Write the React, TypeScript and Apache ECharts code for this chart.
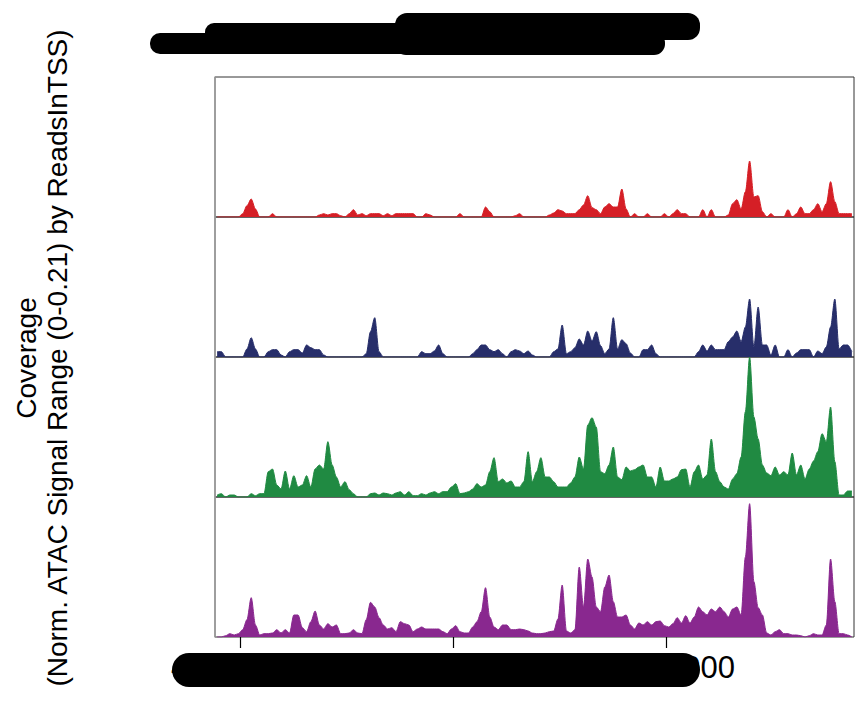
import React, { useEffect, useRef } from "react";
import * as echarts from "echarts";

// Genomic region and binning (200 bp tiles)
const REGION_START = 45208826;
const BIN_SIZE = 200;
const BIN_COUNT = 150;
const REGION_END = REGION_START + BIN_SIZE * BIN_COUNT;

// Signal range 0-0.21, values stored as signal x 1000
const Y_MAX = 210;

const TICK_POSITIONS = [45210000, 45220000, 45230000];
const TICK_LABELS = ["45210000", "45220000", "45230000"];

const TRACK_NAMES = ["C1", "C2", "C3", "C4"];
const TRACK_COLORS = ["#D51F26", "#272E6A", "#208A42", "#89288F"];

const c1Signal = [
  0, 0, 0, 0, 0, 0, 5, 17, 27, 12,
  0, 0, 0, 5, 0, 0, 0, 0, 0, 0,
  0, 0, 0, 0, 3, 5, 3, 5, 5, 2,
  0, 5, 11, 3, 5, 2, 5, 5, 5, 2,
  5, 2, 5, 5, 5, 5, 5, 0, 0, 5,
  3, 0, 0, 0, 0, 0, 0, 5, 0, 0,
  0, 0, 0, 15, 8, 0, 0, 0, 0, 0,
  2, 5, 0, 0, 0, 0, 0, 0, 3, 6,
  11, 9, 5, 5, 5, 11, 18, 32, 14, 11,
  5, 15, 20, 15, 15, 42, 12, 0, 5, 0,
  0, 5, 0, 0, 0, 5, 0, 5, 11, 5,
  5, 0, 0, 0, 11, 0, 11, 0, 0, 0,
  3, 20, 26, 12, 38, 84, 30, 32, 8, 0,
  5, 0, 0, 0, 11, 0, 5, 15, 5, 5,
  11, 20, 8, 20, 53, 23, 5, 5, 5, 5,
];

const c2Signal = [
  8, 8, 0, 0, 0, 0, 0, 12, 29, 12,
  0, 0, 8, 11, 11, 3, 0, 8, 11, 11,
  6, 18, 14, 11, 11, 3, 0, 0, 0, 0,
  0, 0, 0, 0, 0, 5, 38, 59, 8, 0,
  0, 0, 0, 0, 0, 0, 0, 0, 8, 5,
  5, 9, 18, 5, 0, 0, 0, 0, 0, 0,
  5, 11, 18, 18, 11, 8, 11, 5, 0, 8,
  11, 9, 5, 9, 3, 0, 0, 0, 0, 8,
  12, 48, 5, 8, 14, 27, 18, 39, 24, 38,
  17, 5, 12, 59, 12, 26, 20, 6, 0, 0,
  11, 11, 18, 5, 0, 0, 0, 0, 0, 0,
  0, 0, 0, 8, 18, 9, 18, 11, 11, 11,
  23, 30, 39, 23, 45, 87, 15, 75, 18, 18,
  3, 18, 0, 0, 11, 0, 6, 11, 11, 11,
  0, 9, 5, 15, 45, 87, 12, 18, 18, 8,
];

const c3Signal = [
  3, 5, 0, 3, 3, 0, 0, 0, 5, 2,
  5, 5, 38, 42, 18, 12, 39, 12, 32, 15,
  18, 32, 15, 42, 48, 42, 83, 48, 30, 15,
  23, 11, 5, 0, 0, 0, 5, 6, 3, 6,
  5, 3, 6, 8, 3, 8, 2, 2, 5, 3,
  6, 8, 5, 8, 8, 15, 20, 5, 6, 8,
  12, 20, 15, 18, 38, 59, 23, 27, 21, 24,
  15, 15, 23, 68, 23, 38, 59, 30, 30, 23,
  15, 15, 15, 21, 30, 60, 42, 108, 119, 105,
  38, 35, 48, 75, 30, 26, 45, 39, 41, 45,
  48, 30, 30, 15, 45, 24, 24, 27, 30, 41,
  42, 15, 38, 48, 27, 33, 87, 38, 23, 15,
  12, 27, 35, 60, 128, 210, 120, 87, 48, 36,
  32, 45, 33, 38, 33, 66, 33, 48, 27, 42,
  54, 68, 95, 83, 135, 53, 3, 3, 9, 9,
];

const c4Signal = [
  0, 0, 2, 5, 3, 5, 11, 26, 59, 18,
  3, 5, 5, 6, 11, 6, 11, 6, 33, 33,
  14, 8, 23, 39, 18, 12, 20, 15, 18, 5,
  5, 6, 11, 6, 5, 26, 52, 45, 29, 18,
  12, 14, 8, 23, 20, 18, 8, 12, 15, 12,
  12, 12, 12, 8, 5, 12, 17, 8, 6, 6,
  15, 23, 38, 74, 30, 15, 11, 18, 18, 11,
  11, 12, 11, 9, 6, 5, 5, 6, 8, 9,
  27, 78, 9, 6, 11, 105, 45, 117, 90, 45,
  38, 75, 93, 53, 30, 30, 33, 18, 12, 21,
  18, 23, 18, 23, 24, 17, 15, 20, 29, 21,
  32, 21, 30, 45, 38, 33, 42, 38, 45, 38,
  30, 42, 45, 33, 120, 200, 83, 44, 33, 6,
  3, 8, 11, 5, 5, 3, 3, 2, 0, 2,
  5, 3, 3, 18, 117, 53, 5, 5, 3, 0,
];

const TRACK_SIGNALS = [c1Signal, c2Signal, c3Signal, c4Signal];

const FONT = "'Liberation Sans', Arial, Helvetica, sans-serif";

export default function App() {
  const ref = useRef<HTMLDivElement>(null);

  useEffect(() => {
    if (!ref.current) return;
    const chart = echarts.init(ref.current, undefined, { renderer: "svg" });

    const PLOT_LEFT = 215;
    const PLOT_TOP = 77;
    const TRACK_H = 140;
    const PLOT_W = 639;

    const grids = TRACK_NAMES.map((_, k) => ({
      left: PLOT_LEFT,
      top: PLOT_TOP + k * TRACK_H,
      width: PLOT_W,
      height: TRACK_H,
      show: true,
      borderColor: "#333333",
      borderWidth: 1,
      backgroundColor: "transparent",
      containLabel: false,
    }));

    const last = TRACK_NAMES.length - 1;
    const xAxes = TRACK_NAMES.map((_, k) => ({
      type: "value",
      gridIndex: k,
      min: REGION_START,
      max: REGION_END,
      axisLine: { show: false },
      splitLine: { show: false },
      axisTick:
        k === last
          ? {
              show: true,
              customValues: TICK_POSITIONS,
              length: 11,
              lineStyle: { color: "#000", width: 1.2 },
            }
          : { show: false },
      axisLabel:
        k === last
          ? {
              show: true,
              customValues: TICK_POSITIONS,
              fontFamily: FONT,
              fontSize: 31,
              color: "#000",
              margin: 15,
              formatter: (v: number) => {
                const idx = TICK_POSITIONS.indexOf(v);
                return idx >= 0 ? TICK_LABELS[idx] : "";
              },
            }
          : { show: false },
    }));

    const yAxes = TRACK_NAMES.map((_, k) => ({
      type: "value",
      gridIndex: k,
      min: 0,
      max: Y_MAX,
      axisLine: { show: true, lineStyle: { color: "#a0a0a0", width: 1.5 } },
      axisTick: { show: false },
      axisLabel: { show: false },
      splitLine: { show: false },
    }));

    const series = TRACK_NAMES.map((name, k) => ({
      name,
      type: "line",
      xAxisIndex: k,
      yAxisIndex: k,
      data: TRACK_SIGNALS[k].map((v, i) => [
        REGION_START + i * BIN_SIZE + BIN_SIZE / 2,
        v,
      ]),
      showSymbol: false,
      symbol: "none",
      smooth: 0.3,
      smoothMonotone: "x",
      silent: true,
      clip: true,
      lineStyle: { color: TRACK_COLORS[k], width: 1 },
      areaStyle: { color: TRACK_COLORS[k], opacity: 1 },
    }));

    chart.setOption({
      animation: false,
      backgroundColor: "#ffffff",
      grid: grids,
      xAxis: xAxes,
      yAxis: yAxes,
      series,
      graphic: [
        {
          type: "text",
          x: 42,
          y: 358,
          rotation: Math.PI / 2,
          style: {
            text: "Coverage\n(Norm. ATAC Signal Range (0-0.21) by ReadsInTSS)",
            font: `28px ${FONT}`,
            fill: "#000",
            align: "center",
            verticalAlign: "middle",
            lineHeight: 31,
          },
        },
        // redaction strokes over the title
        { type: "rect", z: 100, shape: { x: 150, y: 33, width: 315, height: 21, r: 10 }, style: { fill: "#000" } },
        { type: "rect", z: 100, shape: { x: 205, y: 23, width: 260, height: 27, r: 9 }, style: { fill: "#000" } },
        { type: "rect", z: 100, shape: { x: 395, y: 13, width: 305, height: 27, r: 12 }, style: { fill: "#000" } },
        { type: "rect", z: 100, shape: { x: 395, y: 32, width: 270, height: 23, r: 11 }, style: { fill: "#000" } },
        // redaction stroke over the x tick labels
        { type: "rect", z: 100, shape: { x: 172, y: 653, width: 528, height: 34, r: 17 }, style: { fill: "#000" } },
      ],
    });

    return () => chart.dispose();
  }, []);

  return (
    <div
      ref={ref}
      style={{ position: "absolute", left: 0, top: 0, width: 856, height: 702 }}
    />
  );
}
